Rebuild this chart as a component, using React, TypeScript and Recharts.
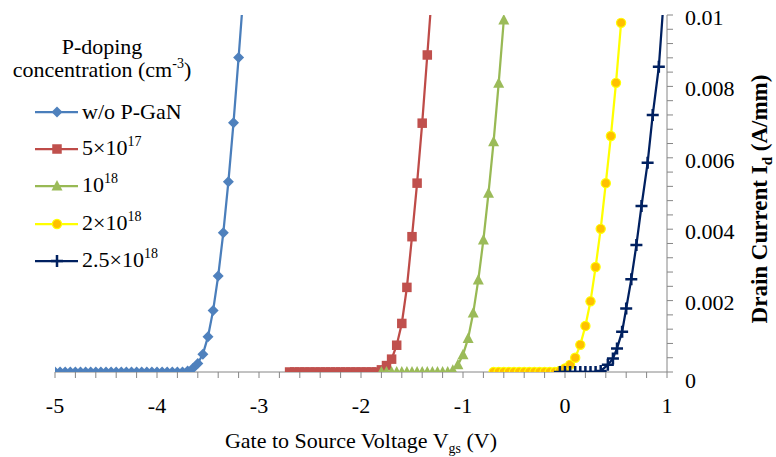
import { LineChart, Line, XAxis, YAxis, Legend } from 'recharts';

const FONT = '"Liberation Serif", "Times New Roman", serif';
const AXIS_GRAY = '#868686';

// series (name uses ^ to mark the superscript part)
const seriesNames = ['w/o P-GaN', '5×10^17', '10^18', '2×10^18', '2.5×10^18'];
const lineColors = ['#4A7EBB', '#BE4B48', '#98B954', '#FFFF00', '#002060'];
const markerFills = ['#4F81BD', '#C0504D', '#9BBB59', '#FFC000', '#002060'];
const markerShapes = ['diamond', 'square', 'triangle', 'circle', 'plus'];

// w/o P-GaN
const vgsNoP = [-5, -4.95, -4.9, -4.85, -4.8, -4.75, -4.7, -4.65, -4.6, -4.55, -4.5, -4.45, -4.4, -4.35, -4.3, -4.25, -4.2, -4.15, -4.1, -4.05, -4, -3.95, -3.9, -3.85, -3.8, -3.75, -3.7, -3.65, -3.6, -3.55, -3.5, -3.45, -3.4, -3.35, -3.3, -3.25, -3.2, -3.15];
const idNoP = [0, 0, 0, 0, 0, 0, 0, 0, 0, 0, 0, 0, 0, 0, 0, 0, 0, 0, 0, 0, 0, 0, 0, 0, 0, 0, 0.00003, 0.0001, 0.00024, 0.0005, 0.00099, 0.00172, 0.00269, 0.0039, 0.00533, 0.00698, 0.00881, 0.0107];

// 5x10^17
const vgs5e17 = [-2.7, -2.65, -2.6, -2.55, -2.5, -2.45, -2.4, -2.35, -2.3, -2.25, -2.2, -2.15, -2.1, -2.05, -2, -1.95, -1.9, -1.85, -1.8, -1.75, -1.7, -1.65, -1.6, -1.55, -1.5, -1.45, -1.4, -1.35, -1.3];
const id5e17 = [0, 0, 0, 0, 0, 0, 0, 0, 0, 0, 0, 0, 0, 0, 0, 0, 0, 0, 0.00006, 0.00018, 0.00036, 0.00075, 0.00136, 0.00237, 0.00379, 0.00529, 0.00697, 0.00888, 0.0108];

// 10^18
const vgs1e18 = [-1.8, -1.75, -1.7, -1.65, -1.6, -1.55, -1.5, -1.45, -1.4, -1.35, -1.3, -1.25, -1.2, -1.15, -1.1, -1.05, -1, -0.95, -0.9, -0.85, -0.8, -0.75, -0.7, -0.65, -0.6];
const id1e18 = [0, 0, 0, 0, 0, 0, 0, 0, 0, 0, 0, 0, 0, 0, 0.00005, 0.0002, 0.00048, 0.00094, 0.00165, 0.00258, 0.0037, 0.00501, 0.00645, 0.00809, 0.00986];

// 2x10^18
const vgs2e18 = [-0.7, -0.65, -0.6, -0.55, -0.5, -0.45, -0.4, -0.35, -0.3, -0.25, -0.2, -0.15, -0.1, -0.05, 0, 0.05, 0.1, 0.15, 0.2, 0.25, 0.3, 0.35, 0.4, 0.45, 0.5, 0.55];
const id2e18 = [0, 0, 0, 0, 0, 0, 0, 0, 0, 0, 0, 0, 0, 0.00003, 0.0001, 0.0002, 0.0004, 0.00076, 0.00129, 0.00198, 0.00294, 0.00401, 0.00529, 0.00661, 0.0081, 0.00978];

// 2.5x10^18
const vgs25e18 = [-0.05, 0, 0.05, 0.1, 0.15, 0.2, 0.25, 0.3, 0.35, 0.42, 0.47, 0.51, 0.56, 0.6, 0.65, 0.7, 0.75, 0.81, 0.86, 0.92, 1.0];
const id25e18 = [0, 0, 0, 0, 0, 0, 0, 0, 0.00003, 0.0002, 0.00038, 0.00066, 0.00113, 0.00178, 0.0026, 0.00356, 0.00465, 0.00586, 0.0072, 0.00855, 0.0117];

// axes
const xTicks = [-5, -4.8, -4.6, -4.4, -4.2, -4, -3.8, -3.6, -3.4, -3.2, -3, -2.8, -2.6, -2.4, -2.2, -2, -1.8, -1.6, -1.4, -1.2, -1, -0.8, -0.6, -0.4, -0.2, 0, 0.2, 0.4, 0.6, 0.8, 1];
const xLabels = [-5, -4, -3, -2, -1, 0, 1];
const yTicks = [0, 0.0004, 0.0008, 0.0012, 0.0016, 0.002, 0.0024, 0.0028, 0.0032, 0.0036, 0.004, 0.0044, 0.0048, 0.0052, 0.0056, 0.006, 0.0064, 0.0068, 0.0072, 0.0076, 0.008, 0.0084, 0.0088, 0.0092, 0.0096, 0.01];
const yLabels = ['0', '0.002', '0.004', '0.006', '0.008', '0.01'];
const yLabelValues = [0, 0.002, 0.004, 0.006, 0.008, 0.01];

const toPoints = (xs: number[], ys: number[]) => xs.map((x, i) => ({ x, y: ys[i] }));
const seriesData = [
  toPoints(vgsNoP, idNoP),
  toPoints(vgs5e17, id5e17),
  toPoints(vgs1e18, id1e18),
  toPoints(vgs2e18, id2e18),
  toPoints(vgs25e18, id25e18),
];

function Marker({ shape, cx, cy, fill }: { shape: string; cx: number; cy: number; fill: string }) {
  if (cx == null || cy == null || isNaN(cx) || isNaN(cy)) return null;
  switch (shape) {
    case 'diamond':
      return <path d={`M${cx},${cy - 5.5}L${cx + 5.5},${cy}L${cx},${cy + 5.5}L${cx - 5.5},${cy}Z`} fill={fill} />;
    case 'square':
      return <rect x={cx - 4.75} y={cy - 4.75} width={9.5} height={9.5} fill={fill} />;
    case 'triangle':
      return <path d={`M${cx},${cy - 6}L${cx + 5.5},${cy + 4.5}L${cx - 5.5},${cy + 4.5}Z`} fill={fill} />;
    case 'circle':
      return <circle cx={cx} cy={cy} r={4.6} fill={fill} stroke="#FFFF00" strokeWidth={1.2} />;
    case 'plus':
      return (
        <path d={`M${cx - 6},${cy}H${cx + 6}M${cx},${cy - 6}V${cy + 6}`} stroke={fill} strokeWidth={2.5} fill="none" />
      );
    default:
      return null;
  }
}

const fmtX = (v: number) => {
  const hit = xLabels.find((l) => Math.abs(l - v) < 1e-6);
  return hit === undefined ? '' : String(hit);
};

function YTick(props: any) {
  const { x, y, payload } = props;
  const idx = yLabelValues.findIndex((l) => Math.abs(l - payload.value) < 1e-9);
  if (idx < 0) return null;
  return (
    <text x={x} y={y + (idx === 0 ? 8 : 2)} dy="0.355em" textAnchor="start" fill="#000" fontSize={22} fontFamily={FONT}>
      {yLabels[idx]}
    </text>
  );
}

const supStyle = { fontSize: 14, position: 'relative' as const, top: -9 };

function LegendBox({ payload }: { payload?: any[] }) {
  // keep the series order rather than Recharts' alphabetical sort
  const items = [...(payload || [])].sort(
    (a, b) => seriesNames.indexOf(String(a.value)) - seriesNames.indexOf(String(b.value))
  );
  return (
    <div style={{ width: 200, fontFamily: FONT, fontSize: 22, color: '#000', lineHeight: '23px' }}>
      <div style={{ textAlign: 'center', paddingTop: 35, paddingLeft: 4 }}>
        <div>P-doping</div>
        <div>
          concentration (cm<span style={supStyle}>-3</span>)
        </div>
      </div>
      <div style={{ marginTop: 9 }}>
        {items.map((entry, i) => {
          const name = String(entry.value);
          const idx = seriesNames.indexOf(name);
          const [base, exp] = name.split('^');
          return (
            <div key={i} style={{ display: 'flex', alignItems: 'center', height: 37.3 }}>
              <svg width={80} height={20} style={{ flex: 'none' }}>
                <line x1={35} x2={78} y1={10} y2={10} stroke={lineColors[idx]} strokeWidth={2.25} />
                <Marker shape={markerShapes[idx]} cx={57} cy={10} fill={markerFills[idx]} />
              </svg>
              <span style={{ marginLeft: 2, whiteSpace: 'nowrap' }}>
                {base}
                {exp && <span style={supStyle}>{exp}</span>}
              </span>
            </div>
          );
        })}
      </div>
    </div>
  );
}

export default function App() {
  return (
    <div style={{ position: 'absolute', left: 0, top: 0, background: '#fff' }}>
      <LineChart width={776} height={457} margin={{ top: 15, right: 49, left: 55, bottom: 45 }}>
        <XAxis
          dataKey="x"
          type="number"
          domain={[-5, 1]}
          allowDataOverflow
          ticks={xTicks}
          interval={0}
          tickFormatter={fmtX}
          tickSize={6}
          tickMargin={19}
          height={40}
          axisLine={{ stroke: AXIS_GRAY }}
          tickLine={{ stroke: AXIS_GRAY }}
          tick={{ fill: '#000', fontSize: 22, fontFamily: FONT }}
          label={(p: any) => {
            const vb = p.viewBox || {};
            return (
              <text x={vb.x + vb.width / 2} y={vb.y + 76} textAnchor="middle" fontSize={22} fontFamily={FONT} fill="#000">
                Gate to Source Voltage V<tspan dy={5} fontSize={14}>gs</tspan>
                <tspan dy={-5}> (V)</tspan>
              </text>
            );
          }}
        />
        <YAxis
          orientation="right"
          type="number"
          domain={[0, 0.01]}
          allowDataOverflow
          ticks={yTicks}
          interval={0}
          width={60}
          tickSize={6}
          tickMargin={12}
          axisLine={{ stroke: AXIS_GRAY }}
          tickLine={{ stroke: AXIS_GRAY }}
          tick={<YTick />}
          label={(p: any) => {
            const vb = p.viewBox || {};
            const x = vb.x + 100;
            const y = 199;
            return (
              <text x={x} y={y} transform={`rotate(-90, ${x}, ${y})`} textAnchor="middle" fontSize={23} fontWeight="bold" fontFamily={FONT} fill="#000">
                Drain Current I<tspan dy={5} fontSize={15}>d</tspan>
                <tspan dy={-5}> (A/mm)</tspan>
              </text>
            );
          }}
        />
        <Legend
          layout="vertical"
          align="center"
          verticalAlign="middle"
          width={200}
          wrapperStyle={{ left: 0, top: 0 }}
          content={(props: any) => <LegendBox payload={props.payload} />}
        />
        {seriesData.map((data, i) => (
          <Line
            key={seriesNames[i]}
            data={data}
            dataKey="y"
            name={seriesNames[i]}
            type="linear"
            stroke={lineColors[i]}
            strokeWidth={2.25}
            isAnimationActive={false}
            dot={(p: any) => (
              <Marker key={`m${i}-${p.index}`} shape={markerShapes[i]} cx={p.cx} cy={p.cy} fill={markerFills[i]} />
            )}
            activeDot={false}
            legendType="line"
          />
        ))}
      </LineChart>
    </div>
  );
}
